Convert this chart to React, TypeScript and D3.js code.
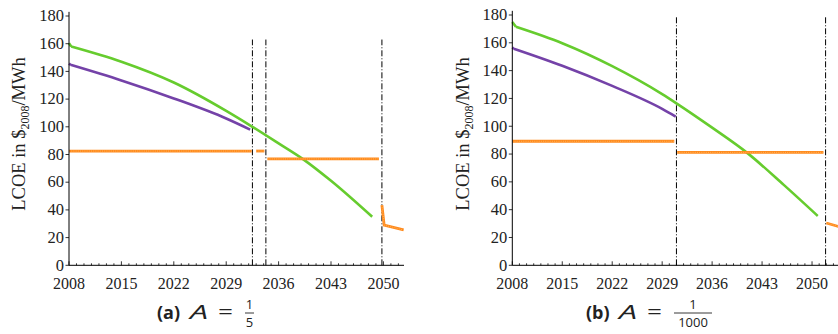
import * as d3 from "d3";

// x tick labels and y ticks, shared by both panels
const yearTicks = [2008, 2015, 2022, 2029, 2036, 2043, 2050];
const lcoeTicks = [0, 20, 40, 60, 80, 100, 120, 140, 160, 180];

// panel (a): A = 1/5  (first point = the little start-up step)
const greenYearsA = [2008, 2008.3, 2015, 2022, 2029, 2032.5, 2036, 2039.3, 2043, 2048.5];
const greenA = [160.3, 158, 147, 132, 111.5, 100, 88, 76.5, 61, 35];
const purpleYearsA = [2008, 2008.2, 2015, 2022, 2029, 2032.2];
const purpleA = [145.6, 144.8, 133.5, 120.5, 106, 98];
const orangeA = [
  [[2008, 82.5], [2032.4, 82.5]],
  [[2033.0, 82.5], [2034.1, 82.5]],
  [[2034.5, 76.8], [2049.4, 76.8]],
  [[2049.8, 43.5], [2050.1, 29], [2052.7, 25.5]],
];
const switchYearsA = [2032.5, 2034.3, 2049.8];

// panel (b): A = 1/1000
const greenYearsB = [2008, 2008.5, 2015, 2022, 2029, 2031, 2036, 2041, 2046, 2050.8];
const greenB = [175, 171.5, 159.7, 143.2, 123.1, 116.5, 99, 80.5, 58, 35.5];
const purpleYearsB = [2008, 2008.2, 2015, 2022, 2029, 2030.9];
const purpleB = [156.6, 155.8, 143.5, 129, 112.5, 107];
const orangeB = [
  [[2008, 89.2], [2030.7, 89.2]],
  [[2031.1, 81.2], [2051.6, 81.2]],
  [[2052.0, 30.4], [2054, 27.5]],
];
const switchYearsB = [2031.0, 2051.9];

const GREEN = "#66cc2e";
const PURPLE = "#7442a8";
const ORANGE = "#ff8a1c";
const serif = "'Liberation Serif', 'DejaVu Serif', serif";
const sans = "'Open Sans', 'DejaVu Sans', sans-serif";

function Panel(props: any) {
  const {left, xEnd, yearEnd, yTop, greenYears, green, purpleYears, purple, orange, switches, labelX} = props;
  const bottom = 265.3;

  const x = d3.scaleLinear().domain([2008, yearEnd]).range([left, xEnd]);
  const y = d3.scaleLinear().domain([0, 180]).range([bottom, yTop]);

  const straight = d3.line<[number, number]>().x(d => x(d[0])).y(d => y(d[1]));
  const smooth = d3.line<[number, number]>().x(d => x(d[0])).y(d => y(d[1])).curve(d3.curveMonotoneX);

  // short straight step at the start, then a smooth curve
  const mk = (years: number[], vals: number[]) => {
    const pts = years.map((yr, i) => [yr, vals[i]] as [number, number]);
    return (straight(pts.slice(0, 2)) || "") + (smooth(pts.slice(1)) || "");
  };

  const seg = d3.line<number[]>().x(d => x(d[0])).y(d => y(d[1]));

  const minorYears = d3.range(2008, Math.floor(yearEnd) + 1);

  return (
    <g>
      {/* switching times */}
      {switches.map((s: number) => (
        <line key={s} x1={x(s)} x2={x(s)} y1={y(0)} y2={y(props.switchTop)}
          stroke="#000" strokeWidth={1} strokeDasharray="6,2,1,2" />
      ))}

      <path d={mk(greenYears, green)} fill="none" stroke={GREEN} strokeWidth={2.6} strokeLinejoin="round" />
      <path d={mk(purpleYears, purple)} fill="none" stroke={PURPLE} strokeWidth={2.6} strokeLinejoin="round" />
      {orange.map((o: number[][], i: number) => (
        <g key={i}>
          <path d={seg(o) || ""} fill="none" stroke={ORANGE} strokeWidth={2.8} />
          <path d={seg(o) || ""} fill="none" stroke="#ffb35c" strokeWidth={1} strokeDasharray="1,1.2" />
        </g>
      ))}

      {/* axes */}
      <line x1={left} x2={xEnd} y1={bottom} y2={bottom} stroke="#000" strokeWidth={1} />
      <line x1={left} x2={left} y1={bottom} y2={y(183)} stroke="#000" strokeWidth={1} />
      {minorYears.map(yr => (
        <line key={yr} x1={x(yr)} x2={x(yr)} y1={bottom} y2={bottom - (yearTicks.includes(yr) ? 4 : 2)}
          stroke="#000" strokeWidth={0.8} />
      ))}
      {yearTicks.map(yr => (
        <text key={yr} x={x(yr)} y={288.5} textAnchor="middle" fontFamily={serif} fontSize={16} fill="#222">{yr}</text>
      ))}
      {lcoeTicks.map(v => (
        <g key={v}>
          <line x1={left - 3.5} x2={left} y1={y(v)} y2={y(v)} stroke="#000" strokeWidth={0.8} />
          <text x={left - 5} y={y(v)} dy="0.32em" textAnchor="end" fontFamily={serif} fontSize={16.5} fill="#222">{v}</text>
        </g>
      ))}

      {/* y label */}
      <text transform={`translate(${labelX},134) rotate(-90)`} textAnchor="middle" fontFamily={serif} fontSize={18.5} fill="#222">
        LCOE in $<tspan fontSize={12} dy={4}>2008</tspan><tspan dy={-4}>/MWh</tspan>
      </text>
    </g>
  );
}

function Caption(props: any) {
  const {x0, letter, num, den, fracW} = props;
  const fx = x0 + 88;
  return (
    <g fontFamily={sans} fill="#222">
      <text x={x0} y={319} fontSize={18} fontWeight="bold">({letter})</text>
      <text x={x0 + 33} y={319} fontSize={20} fontStyle="italic" textLength={18} lengthAdjust="spacingAndGlyphs">A</text>
      <text x={x0 + 61} y={319} fontSize={20} textLength={15} lengthAdjust="spacingAndGlyphs">=</text>
      <text x={fx + fracW / 2} y={309} fontSize={13} textAnchor="middle">{num}</text>
      <line x1={fx} x2={fx + fracW} y1={313} y2={313} stroke="#222" strokeWidth={0.9} />
      <text x={fx + fracW / 2} y={327} fontSize={13} textAnchor="middle">{den}</text>
    </g>
  );
}

export default function App() {
  return (
    <svg width={838} height={334} style={{position: "absolute", left: 0, top: 0, background: "#fff"}}>
      <Panel left={69} xEnd={404} yearEnd={2052.75} yTop={16} switchTop={163}
        greenYears={greenYearsA} green={greenA} purpleYears={purpleYearsA} purple={purpleA}
        orange={orangeA} switches={switchYearsA} labelX={25} />
      <Panel left={512.3} xEnd={847} yearEnd={2054.9} yTop={15} switchTop={179}
        greenYears={greenYearsB} green={greenB} purpleYears={purpleYearsB} purple={purpleB}
        orange={orangeB} switches={switchYearsB} labelX={469} />
      <Caption x0={157} letter="a" num="1" den="5" fracW={9} />
      <Caption x0={586} letter="b" num="1" den="1000" fracW={38} />
    </svg>
  );
}
